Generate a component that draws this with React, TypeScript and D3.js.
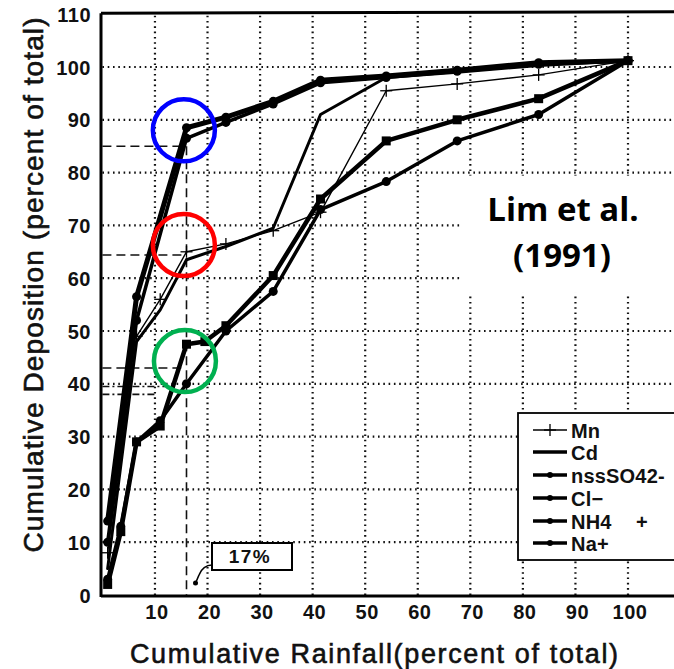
import React, { useEffect, useRef } from 'react';
import * as d3 from 'd3';

// tick values
const xTicks = [10, 20, 30, 40, 50, 60, 70, 80, 90, 100];
const yTicks = [0, 10, 20, 30, 40, 50, 60, 70, 80, 90, 100, 110];

// cumulative rainfall (x) and deposition (y)
const mnRain = [1, 6.5, 11, 16, 23.5, 32.5, 41.5, 54, 67.5, 83, 100];
const mnDep = [8, 49, 56, 65, 66.5, 69, 72.5, 95.5, 96.8, 98.5, 101.2];

const cdRain = [1, 6.5, 11, 16, 23.5, 32.5, 41.5, 54, 67.5, 83, 100];
const cdDep = [5, 48, 54, 63.5, 66, 69.5, 91, 98, 99, 100.3, 101.2];

const so4Rain = [1, 6.5, 16, 23.5, 32.5, 41.5, 54, 67.5, 83, 100];
const so4Dep = [14, 56.5, 88.5, 90.5, 93.5, 97.5, 98.3, 99.4, 100.8, 101.2];

const clRain = [1, 6.5, 16, 23.5, 32.5, 41.5, 54, 67.5, 83, 100];
const clDep = [10, 52, 86.5, 89.5, 93, 97, 98, 99.2, 100.5, 101.2];

const nh4Rain = [1, 3.5, 6.5, 11, 16, 19.5, 23.5, 32.5, 41.5, 54, 67.5, 83, 100];
const nh4Dep = [2, 12, 29, 32, 47.5, 48, 51, 60.5, 75, 86, 90, 94, 101.2];

const naRain = [1, 3.5, 6.5, 11, 16, 23.5, 32.5, 41.5, 54, 67.5, 83, 100];
const naDep = [3, 13, 29, 33, 40, 50, 57.5, 73, 78.3, 86, 91, 101.2];

const legendLabels = ['Mn', 'Cd', 'nssSO42-', 'Cl\u2212', 'NH4', 'Na+'];

const App = () => {
  const ref = useRef<SVGSVGElement>(null);

  useEffect(() => {
    const W = 674;
    const H = 669;
    const svg = d3.select(ref.current);
    svg.selectAll('*').remove();

    const x = d3.scaleLinear().domain([0, 109]).range([102.4, 102.4 + 109 * 5.256]);
    const y = d3.scaleLinear().domain([0, 110]).range([595, 14.2]);

    svg.append('rect').attr('width', W).attr('height', H).attr('fill', '#fff');

    const font = "'Liberation Sans', Arial, sans-serif";

    // dotted grid
    const grid = svg.append('g').attr('stroke', '#111').attr('stroke-width', 2.2).attr('stroke-dasharray', '1.6 3.7');
    xTicks.forEach((t) => {
      grid.append('line').attr('x1', x(t)).attr('x2', x(t)).attr('y1', y(0)).attr('y2', y(110));
    });
    yTicks.filter((t) => t > 0 && t < 110).forEach((t) => {
      grid.append('line').attr('x1', x(0)).attr('x2', W).attr('y1', y(t)).attr('y2', y(t));
    });

    // white box behind the citation
    svg.append('rect').attr('x', 462).attr('y', y(80) + 3).attr('width', W - 462).attr('height', y(57.2) - y(80) - 3).attr('fill', '#fff');

    // dashed guide lines
    const dash = svg.append('g').attr('stroke', '#111').attr('stroke-width', 1.6).attr('fill', 'none');
    dash.append('line').attr('x1', x(0)).attr('x2', x(16)).attr('y1', y(85)).attr('y2', y(85)).attr('stroke-dasharray', '9 5');
    dash.append('line').attr('x1', x(16)).attr('x2', x(16)).attr('y1', y(85)).attr('y2', y(0)).attr('stroke-dasharray', '9 5');
    dash.append('line').attr('x1', x(0)).attr('x2', x(16)).attr('y1', y(64.4)).attr('y2', y(64.4)).attr('stroke-dasharray', '9 5');
    dash.append('line').attr('x1', x(0)).attr('x2', x(15)).attr('y1', y(43)).attr('y2', y(43)).attr('stroke-dasharray', '9 5');
    dash.append('line').attr('x1', x(0)).attr('x2', x(12)).attr('y1', y(39.5)).attr('y2', y(39.5)).attr('stroke-dasharray', '7 3 2 3');
    dash.append('line').attr('x1', x(0)).attr('x2', x(10)).attr('y1', y(38)).attr('y2', y(38)).attr('stroke-dasharray', '7 3 2 3');

    // axes frame
    const frame = svg.append('g').attr('stroke', '#000').attr('stroke-width', 3);
    frame.append('line').attr('x1', 101).attr('x2', 101).attr('y1', y(110) - 1).attr('y2', y(0) + 2);
    frame.append('line').attr('x1', 101).attr('x2', W).attr('y1', y(0) + 1).attr('y2', y(0) + 1);
    frame.append('line').attr('x1', 101).attr('x2', W).attr('y1', y(110) - 1).attr('y2', y(110) - 2.5);

    // tick labels
    svg.append('g').selectAll('text').data(yTicks).join('text')
      .attr('x', 91).attr('y', (d) => y(d) + 7.5)
      .attr('text-anchor', 'end').attr('font-family', font).attr('font-weight', 'bold')
      .attr('font-size', 20).attr('letter-spacing', 0.5).attr('fill', '#111').text((d) => d);
    svg.append('g').selectAll('text').data(xTicks).join('text')
      .attr('x', (d) => x(d) + 2).attr('y', 619)
      .attr('text-anchor', 'middle').attr('font-family', font).attr('font-weight', 'bold')
      .attr('font-size', 20).attr('letter-spacing', 0.5).attr('fill', '#111').text((d) => d);

    // axis titles
    svg.append('text').attr('x', 374).attr('y', 663).attr('text-anchor', 'middle')
      .attr('font-family', font).attr('font-size', 27).attr('fill', '#111')
      .attr('stroke', '#111').attr('stroke-width', 0.6)
      .attr('textLength', 488).attr('lengthAdjust', 'spacing')
      .text('Cumulative Rainfall(percent of total)');
    svg.append('text').attr('transform', 'translate(43,285) rotate(-90)').attr('text-anchor', 'middle')
      .attr('font-family', font).attr('font-size', 28).attr('fill', '#111')
      .attr('stroke', '#111').attr('stroke-width', 0.6)
      .attr('textLength', 535).attr('lengthAdjust', 'spacing')
      .text('Cumulative Deposition (percent of total)');

    const series = [
      { name: 'Mn', rain: mnRain, dep: mnDep, width: 1.4, marker: 'plus' },
      { name: 'Cd', rain: cdRain, dep: cdDep, width: 3, marker: 'none' },
      { name: 'nssSO42-', rain: so4Rain, dep: so4Dep, width: 5, marker: 'dot' },
      { name: 'Cl-', rain: clRain, dep: clDep, width: 3.5, marker: 'dot' },
      { name: 'NH4 +', rain: nh4Rain, dep: nh4Dep, width: 4.5, marker: 'square' },
      { name: 'Na+', rain: naRain, dep: naDep, width: 3.5, marker: 'dot' },
    ];

    const drawMarker = (g: any, type: string, cx: number, cy: number) => {
      if (type === 'dot') g.append('circle').attr('cx', cx).attr('cy', cy).attr('r', 4.5).attr('fill', '#000');
      if (type === 'square') g.append('rect').attr('x', cx - 4.5).attr('y', cy - 4.5).attr('width', 9).attr('height', 9).attr('fill', '#000');
      if (type === 'plus') {
        g.append('line').attr('x1', cx - 6).attr('x2', cx + 6).attr('y1', cy).attr('y2', cy).attr('stroke', '#000').attr('stroke-width', 1.3);
        g.append('line').attr('x1', cx).attr('x2', cx).attr('y1', cy - 6).attr('y2', cy + 6).attr('stroke', '#000').attr('stroke-width', 1.3);
      }
    };

    series.forEach((s) => {
      const pts = s.rain.map((r, i) => [x(r), y(s.dep[i])] as [number, number]);
      const g = svg.append('g');
      g.append('path').attr('d', d3.line()(pts)).attr('fill', 'none').attr('stroke', '#000')
        .attr('stroke-width', s.width).attr('stroke-linejoin', 'round').attr('stroke-linecap', 'round');
      pts.forEach(([px, py]) => drawMarker(g, s.marker, px, py));
    });

    // highlight circles
    const circles = [
      { cx: 15.5, cy: 88, color: '#0000ff' },
      { cx: 15.5, cy: 66.3, color: '#ff0000' },
      { cx: 15.7, cy: 44.3, color: '#00b050' },
    ];
    svg.append('g').selectAll('circle').data(circles).join('circle')
      .attr('cx', (d) => x(d.cx)).attr('cy', (d) => y(d.cy)).attr('r', 31)
      .attr('fill', 'none').attr('stroke', (d) => d.color).attr('stroke-width', 4.5);

    // 17% callout
    svg.append('rect').attr('x', 212).attr('y', 543).attr('width', 80).attr('height', 27)
      .attr('fill', '#fff').attr('stroke', '#000').attr('stroke-width', 2);
    svg.append('text').attr('x', 250).attr('y', 563).attr('text-anchor', 'middle')
      .attr('font-family', font).attr('font-weight', 'bold').attr('font-size', 19)
      .attr('letter-spacing', 1.5).attr('fill', '#111').text('17%');
    svg.append('path').attr('d', 'M212,565 C204,565 201,570 199,575 L196,582').attr('fill', 'none')
      .attr('stroke', '#000').attr('stroke-width', 1.6);
    svg.append('circle').attr('cx', 195.5).attr('cy', 583).attr('r', 2.5).attr('fill', '#000');

    // citation
    const cite = svg.append('g').attr('font-family', "'Open Sans', sans-serif").attr('font-weight', 'bold')
      .attr('font-size', 33).attr('text-anchor', 'middle').attr('fill', '#000');
    cite.append('text').attr('x', 563).attr('y', 221).text('Lim et al.');
    cite.append('text').attr('x', 562).attr('y', 267).text('(1991)');

    // legend
    const lg = svg.append('g');
    lg.append('rect').attr('x', 518).attr('y', 413).attr('width', 180).attr('height', 147)
      .attr('fill', '#fff').attr('stroke', '#000').attr('stroke-width', 1.8);
    const rowY = [430, 452, 475, 498, 521, 543];
    series.forEach((s, i) => {
      const ly = rowY[i];
      lg.append('line').attr('x1', 533).attr('x2', 567).attr('y1', ly).attr('y2', ly)
        .attr('stroke', '#000').attr('stroke-width', s.name === 'Mn' ? 1.4 : 3.5);
      if (s.marker === 'plus') drawMarker(lg, 'plus', 550, ly);
      else if (s.marker !== 'none') lg.append('circle').attr('cx', 550).attr('cy', ly).attr('r', 3).attr('fill', '#000');
      lg.append('text').attr('x', 571).attr('y', ly + 7.5).attr('font-family', font).attr('font-weight', 'bold')
        .attr('font-size', 20).attr('letter-spacing', 0.2).attr('fill', '#111').text(legendLabels[i]);
    });
    lg.append('text').attr('x', 636).attr('y', rowY[4] + 7.5).attr('font-family', font).attr('font-weight', 'bold')
      .attr('font-size', 20).attr('fill', '#111').text('+');
  }, []);

  return (
    <svg ref={ref} width={674} height={669} style={{ position: 'absolute', left: 0, top: 0 }} />
  );
};

export default App;
